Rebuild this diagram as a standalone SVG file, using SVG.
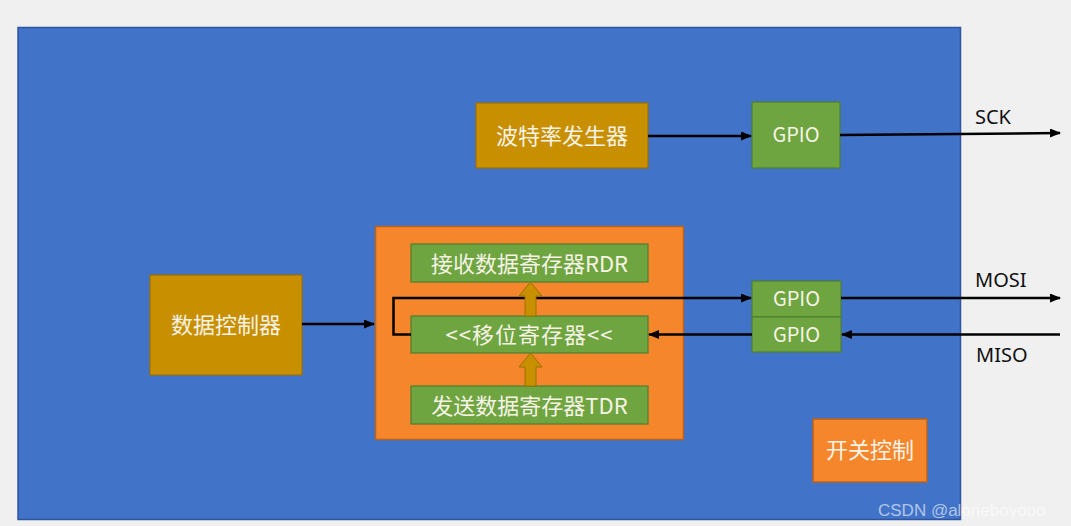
<svg xmlns="http://www.w3.org/2000/svg" width="1071" height="526" viewBox="0 0 1071 526">
<defs>
<marker id="ah" markerWidth="11" markerHeight="9" refX="10" refY="4.5" orient="auto" markerUnits="userSpaceOnUse">
<path d="M0,0 L11,4.5 L0,9 Z" fill="#000"/>
</marker>
<style>
.gold{fill:#C88F00;stroke:#9C7000;stroke-width:1.2}
.green{fill:#6EA540;stroke:#4F7F2E;stroke-width:1.2}
.orange{fill:#F5862C;stroke:#B8621E;stroke-width:1.5}
.t{font-family:"Noto Sans CJK SC","Noto Sans",sans-serif;fill:#F7F3E6;text-anchor:middle;dominant-baseline:central}
.lbl{font-family:"Noto Sans","Noto Sans CJK SC",sans-serif;fill:#111;font-size:20px}
.ln{stroke:#000;stroke-width:2.5;fill:none}
.up{fill:#C88F00;stroke:#9C7000;stroke-width:1}
</style>
</defs>
<rect x="0" y="0" width="1071" height="526" fill="#F0F0F0"/>
<g id="board">
<rect x="18" y="27.5" width="942.5" height="492" fill="#4173C8" stroke="#2E55A0" stroke-width="1.5"/>
</g>
<g id="baud">
<rect class="gold" x="476" y="103" width="172" height="65"/>
<text class="t" x="562" y="134" font-size="22">波特率发生器</text>
</g>
<g id="gpio-sck">
<rect class="green" x="752" y="102" width="88" height="66"/>
<text class="t" x="796" y="133" font-size="20">GPIO</text>
</g>
<g id="datactrl">
<rect class="gold" x="150" y="275" width="152" height="100"/>
<text class="t" x="226" y="323" font-size="22">数据控制器</text>
</g>
<g id="container">
<rect class="orange" x="375.5" y="226.5" width="308" height="213"/>
</g>
<g id="rdr">
<rect class="green" x="411" y="244" width="237" height="38"/>
<text class="t" x="529.5" y="262" font-size="22">接收数据寄存器RDR</text>
</g>
<g id="shift">
<rect class="green" x="411" y="316" width="237" height="37"/>
<text class="t" x="529.5" y="333" font-size="22" letter-spacing="1">&lt;&lt;移位寄存器&lt;&lt;</text>
</g>
<g id="tdr">
<rect class="green" x="411" y="386" width="237" height="38"/>
<text class="t" x="529.5" y="404" font-size="22">发送数据寄存器TDR</text>
</g>
<g id="gpio-mosi">
<rect class="green" x="752" y="281" width="89" height="36"/>
<text class="t" x="796.5" y="297.5" font-size="20">GPIO</text>
</g>
<g id="gpio-miso">
<rect class="green" x="752" y="317" width="89" height="35"/>
<text class="t" x="796.5" y="333.5" font-size="20">GPIO</text>
</g>
<g id="switch">
<rect class="orange" x="813" y="419" width="114" height="63"/>
<text class="t" x="870" y="448" font-size="22">开关控制</text>
</g>
<g id="connectors">
<path class="ln" d="M648,136 L751,136" marker-end="url(#ah)"/>
<path class="ln" d="M840,135 L1060,133" marker-end="url(#ah)"/>
<path class="ln" d="M302,324 L374,324" marker-end="url(#ah)"/>
<path class="ln" d="M411,334.5 L393.5,334.5 L393.5,298 L751,298" marker-end="url(#ah)"/>
<path class="ln" d="M841,298 L1060,298" marker-end="url(#ah)"/>
<path class="ln" d="M1060,334.5 L842,334.5" marker-end="url(#ah)"/>
<path class="ln" d="M752,334.5 L649,334.5" marker-end="url(#ah)"/>
<path class="up" d="M525,316 L525,296 L519,296 L530.5,282 L542,296 L536,296 L536,316 Z"/>
<path class="up" d="M525,386 L525,367 L519,367 L530.5,353 L542,367 L536,367 L536,386 Z"/>
</g>
<g id="labels">
<text class="lbl" x="975" y="124">SCK</text>
<text class="lbl" x="975" y="287">MOSI</text>
<text class="lbl" x="976" y="362">MISO</text>
</g>
<text x="878" y="516" font-family="Liberation Sans, sans-serif" font-size="17" fill="#FFFFFF" fill-opacity="0.6">CSDN @aloneboyooo</text>
</svg>
